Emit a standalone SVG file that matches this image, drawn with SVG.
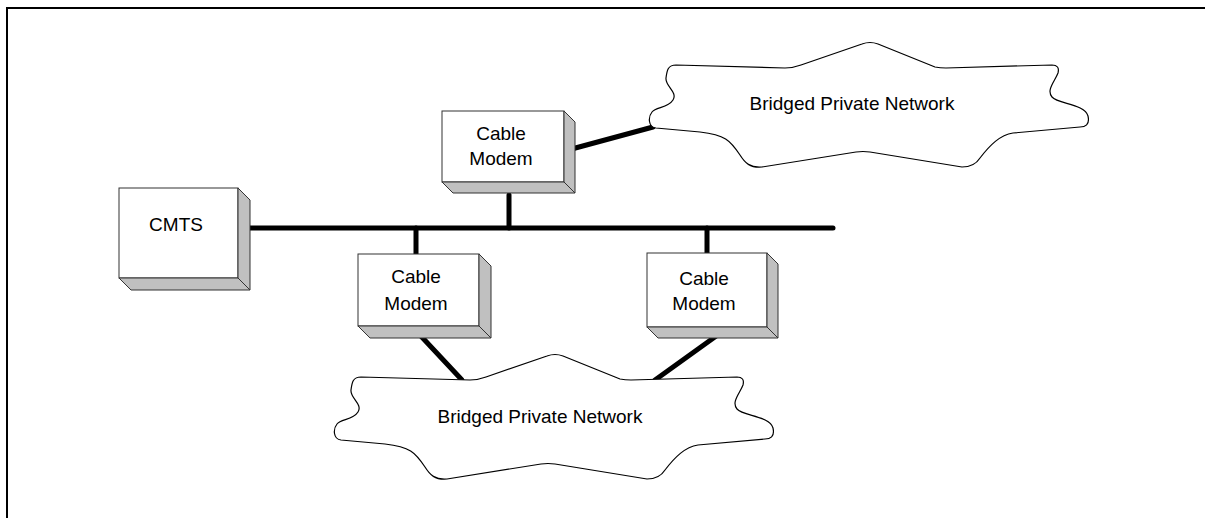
<svg xmlns="http://www.w3.org/2000/svg" width="1205" height="518" viewBox="0 0 1205 518">
<style>
  .face{fill:#ffffff;stroke:#333333;stroke-width:1}
  .side{fill:#c0c0c0;stroke:#333333;stroke-width:1;stroke-linejoin:round}
  .cloud{fill:#ffffff;stroke:#000000;stroke-width:1.2;stroke-linejoin:round}
  .lbl{font-family:"Liberation Sans",Arial,sans-serif;font-size:19px;fill:#000000;text-anchor:middle}
  .wire{stroke:#000000;stroke-width:5;stroke-linecap:round;fill:none}
  .frame{stroke:#000000;stroke-width:2;fill:none}
</style>
<defs>
  <path id="cloudShape" d="M 676,65 L 785,68 Q 793,68 801,65 L 862,44 Q 870,41 878,44 L 935,67 Q 940,68 946,68 L 1052,65 Q 1060,65 1058,73 C 1055,81 1046,90 1052,97 C 1058,104 1085,104 1088,116 C 1090,125 1085,127 1080,127 L 1013,133 C 1000,135 990,145 980,158 C 975,166 968,167 962,167 L 870,152 Q 863,151 856,152 L 762,167 C 750,168 745,163 740,155 C 730,140 725,135 700,132 L 656,128 C 648,127 648,117 652,112 C 656,107 668,108 673,100 C 678,92 665,86 666,78 C 667,70 668,65 676,65 Z"/>
</defs>
<path class="frame" d="M 7,518 L 7,8 L 1205,8"/>
<g id="connectors">
  <line class="wire" x1="245" y1="228" x2="833" y2="228"/>
  <line class="wire" x1="509" y1="195" x2="509" y2="228"/>
  <line class="wire" x1="416" y1="228" x2="416" y2="254"/>
  <line class="wire" x1="707" y1="228" x2="707" y2="253"/>
  <line class="wire" x1="568" y1="150" x2="653" y2="127"/>
  <line class="wire" x1="419" y1="334" x2="462" y2="380"/>
  <line class="wire" x1="719" y1="334" x2="655" y2="380"/>
</g>
<g id="cmts">
  <rect class="face" x="119" y="188" width="119" height="90"/>
  <polygon class="side" points="238,188 250,200 250,290 238,278"/>
  <polygon class="side" points="119,278 238,278 250,290 131,290"/>
  <text class="lbl" x="176" y="231">CMTS</text>
</g>
<g id="cm-top">
  <rect class="face" x="442" y="111" width="122" height="71"/>
  <polygon class="side" points="564,111 575,122 575,193 564,182"/>
  <polygon class="side" points="442,182 564,182 575,193 453,193"/>
  <text class="lbl" x="501" y="140">Cable</text>
  <text class="lbl" x="501" y="165">Modem</text>
</g>
<g id="cm-left">
  <rect class="face" x="358" y="254" width="121" height="72"/>
  <polygon class="side" points="479,254 491,266 491,338 479,326"/>
  <polygon class="side" points="358,326 479,326 491,338 370,338"/>
  <text class="lbl" x="416" y="283">Cable</text>
  <text class="lbl" x="416" y="310">Modem</text>
</g>
<g id="cm-right">
  <rect class="face" x="647" y="253" width="120" height="74"/>
  <polygon class="side" points="767,253 778,264 778,338 767,327"/>
  <polygon class="side" points="647,327 767,327 778,338 658,338"/>
  <text class="lbl" x="704" y="285">Cable</text>
  <text class="lbl" x="704" y="310">Modem</text>
</g>
<g id="cloud-top">
  <use href="#cloudShape" class="cloud"/>
  <text class="lbl" x="852" y="110">Bridged Private Network</text>
</g>
<g id="cloud-bottom">
  <use href="#cloudShape" class="cloud" transform="translate(-315,312)"/>
  <text class="lbl" x="540" y="423">Bridged Private Network</text>
</g>
</svg>
